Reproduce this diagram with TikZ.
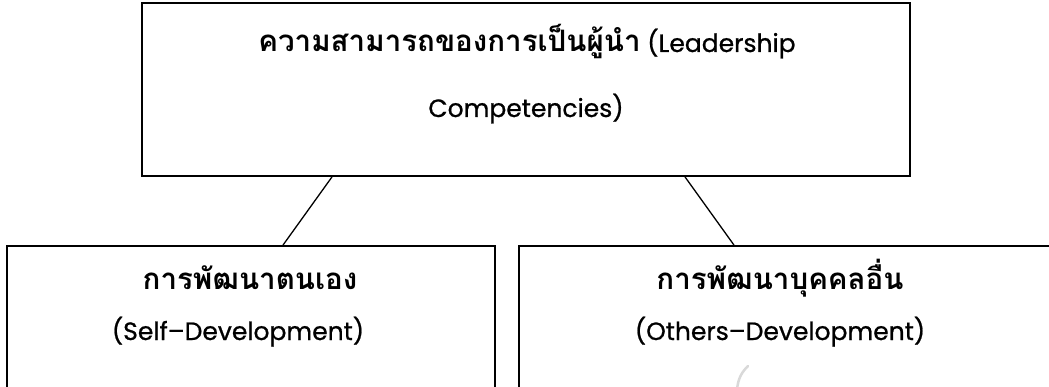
\documentclass[tikz,border=0pt]{standalone}
\usepackage{fontspec}
\newfontfamily\thaifont[Script=Thai]{Loma}
\newfontfamily\latf[FakeBold=0.8]{Poppins}
\newcommand{\thtxt}[1]{{\thaifont\bfseries\fontsize{29.5}{34}\selectfont #1}}
\newcommand{\latxt}[1]{{\latf\fontsize{25}{30}\selectfont #1}}
\tikzset{
  box/.style={draw=black, line width=1.8pt, fill=none, inner sep=0pt},
  lab/.style={anchor=base, inner sep=0pt},
  conn/.style={draw=black, line width=1.3pt}
}
\begin{document}
\begin{tikzpicture}[x=1pt,y=-1pt]
\useasboundingbox (0,0) rectangle (1049,387);
\clip (0,0) rectangle (1049,387);
\fill[white] (0,0) rectangle (1049,387);
% boxes
\node[box, minimum width=768pt, minimum height=173pt] (top) at (526,89.5) {};
\node[box, minimum width=488pt, minimum height=200pt] (sl) at (251,346) {};
\node[box, minimum width=560pt, minimum height=200pt] (sr) at (799,346) {};
% texts
\node[lab] (t1) at (527,52) {\thtxt{ความสามารถของการเป็นผู้นำ}\latxt{ (Leadership}};
\node[lab] (t2) at (526,117) {\latxt{Competencies)}};
\node[lab] (l1) at (250,290) {\thtxt{การพัฒนาตนเอง}};
\node[lab] (l2) at (238,340) {\latxt{(Self–Development)}};
\node[lab] (r1) at (780,290) {\thtxt{การพัฒนาบุคคลอื่น}};
\node[lab] (r2) at (780,340) {\latxt{(Others–Development)}};
% connectors
\draw[conn] (top.south -| 332,0) -- (sl.north -| 283,0);
\draw[conn] (top.south -| 685,0) -- (sr.north -| 734,0);
% faint watermark fragment
\draw[black!15, line width=2.5pt, line cap=round] (748,366) .. controls (742,372) and (738,378) .. (737,390);
\end{tikzpicture}
\end{document}
